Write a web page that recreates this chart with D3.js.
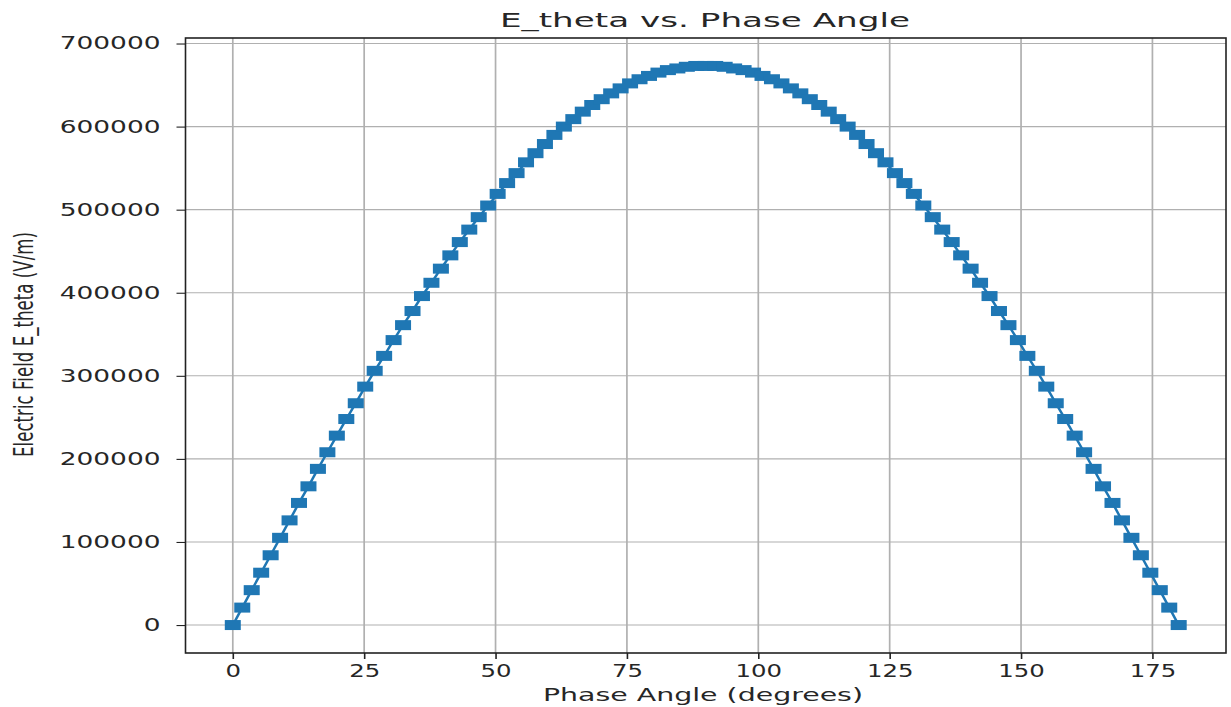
<!DOCTYPE html>
<html lang="en">
<head>
    <meta charset="UTF-8">
    <title>E_theta vs. Phase Angle</title>
    <script src="https://cdn.jsdelivr.net/npm/d3@7"></script>
    <style>
      body { margin: 0; background: #fff; }
      text { font-family: "DejaVu Sans", sans-serif; fill: #262626; }
    </style>
</head>
<body>
<div id="chart"></div>
<script>
  // phase angle samples (degrees)
  const angles = [0, 1.8, 3.6, 5.4, 7.2, 9, 10.8, 12.6, 14.4, 16.2, 18, 19.8, 21.6, 23.4, 25.2, 27, 28.8, 30.6, 32.4, 34.2,
    36, 37.8, 39.6, 41.4, 43.2, 45, 46.8, 48.6, 50.4, 52.2, 54, 55.8, 57.6, 59.4, 61.2, 63, 64.8, 66.6, 68.4, 70.2,
    72, 73.8, 75.6, 77.4, 79.2, 81, 82.8, 84.6, 86.4, 88.2, 90, 91.8, 93.6, 95.4, 97.2, 99, 100.8, 102.6, 104.4, 106.2,
    108, 109.8, 111.6, 113.4, 115.2, 117, 118.8, 120.6, 122.4, 124.2, 126, 127.8, 129.6, 131.4, 133.2, 135, 136.8, 138.6,
    140.4, 142.2, 144, 145.8, 147.6, 149.4, 151.2, 153, 154.8, 156.6, 158.4, 160.2, 162, 163.8, 165.6, 167.4, 169.2,
    171, 172.8, 174.6, 176.4, 178.2, 180];

  // E_theta values (V/m)
  const eTheta = [0, 21000, 42000, 63000, 84000, 105000, 126000, 147000, 167000, 188000, 208000, 228000, 248000, 267000,
    287000, 306000, 324000, 343000, 361000, 378000, 396000, 412000, 429000, 445000, 461000, 476000, 491000, 505000,
    519000, 532000, 544000, 557000, 568000, 579000, 590000, 600000, 609000, 618000, 626000, 633000, 640000, 646000,
    652000, 657000, 661000, 665000, 668000, 670000, 672000, 673000, 673000,
    673000, 672000, 670000, 668000, 665000, 661000, 657000, 652000, 646000, 640000, 633000, 626000, 618000, 609000,
    600000, 590000, 579000, 568000, 557000, 544000, 532000, 519000, 505000, 491000, 476000, 461000, 445000, 429000,
    412000, 396000, 378000, 361000, 343000, 324000, 306000, 287000, 267000, 248000, 228000, 208000, 188000, 167000,
    147000, 126000, 105000, 84000, 63000, 42000, 21000, 0];

  const xTicks = [0, 25, 50, 75, 100, 125, 150, 175];
  const yTicks = [0, 100000, 200000, 300000, 400000, 500000, 600000, 700000];

  const width = 1231, height = 707;
  const plotLeft = 185.5, plotRight = 1226, plotTop = 38, plotBottom = 653;

  const x = d3.scaleLinear().domain([-9, 189]).range([plotLeft, plotRight]);
  const y = d3.scaleLinear().domain([-33650, 706650]).range([plotBottom, plotTop]);

  const svg = d3.select("#chart").append("svg")
      .attr("width", width)
      .attr("height", height);

  // grid
  svg.append("g").selectAll("line")
    .data(xTicks)
    .join("line")
      .attr("x1", d => x(d)).attr("x2", d => x(d))
      .attr("y1", plotTop).attr("y2", plotBottom)
      .attr("stroke", "#b0b0b0")
      .attr("stroke-width", 1.7);

  svg.append("g").selectAll("line")
    .data(yTicks)
    .join("line")
      .attr("x1", plotLeft).attr("x2", plotRight)
      .attr("y1", d => y(d)).attr("y2", d => y(d))
      .attr("stroke", "#b0b0b0")
      .attr("stroke-width", 1.1);

  // axes
  const xAxis = svg.append("g")
      .attr("transform", `translate(0,${plotBottom})`)
      .call(d3.axisBottom(x).tickValues(xTicks).tickSize(6).tickPadding(6).tickFormat(d3.format("d")));
  xAxis.select(".domain").remove();
  xAxis.selectAll("line").attr("stroke", "#222").attr("stroke-width", 1.6);
  xAxis.selectAll("text")
      .attr("font-size", 17)
      .attr("fill", "#262626")
      .attr("textLength", function () { return this.textContent.length * 15.5; })
      .attr("lengthAdjust", "spacingAndGlyphs");

  const yAxis = svg.append("g")
      .attr("transform", `translate(${plotLeft},0)`)
      .call(d3.axisLeft(y).tickValues(yTicks).tickSize(9).tickPadding(16).tickFormat(d3.format("d")));
  yAxis.select(".domain").remove();
  yAxis.selectAll("line").attr("stroke", "#222").attr("stroke-width", 1.1);
  yAxis.selectAll("text")
      .attr("font-size", 17)
      .attr("fill", "#262626")
      .attr("textLength", function () { return this.textContent.length * 16.8; })
      .attr("lengthAdjust", "spacingAndGlyphs");

  // series
  const line = d3.line()
      .x((d, i) => x(angles[i]))
      .y(d => y(d));

  svg.append("path")
      .datum(eTheta)
      .attr("fill", "none")
      .attr("stroke", "#1f77b4")
      .attr("stroke-width", 2.5)
      .attr("d", line);

  svg.append("g").selectAll("rect")
    .data(eTheta)
    .join("rect")
      .attr("x", (d, i) => x(angles[i]) - 8)
      .attr("y", d => y(d) - 5)
      .attr("width", 16)
      .attr("height", 10)
      .attr("fill", "#1f77b4");

  // frame
  svg.append("rect")
      .attr("x", plotLeft).attr("y", plotTop)
      .attr("width", plotRight - plotLeft).attr("height", plotBottom - plotTop)
      .attr("fill", "none")
      .attr("stroke", "#222")
      .attr("stroke-width", 1.6);

  // labels
  svg.append("text")
      .attr("x", 705).attr("y", 27)
      .attr("text-anchor", "middle")
      .attr("font-size", 20)
      .attr("textLength", 410)
      .attr("lengthAdjust", "spacingAndGlyphs")
      .text("E_theta vs. Phase Angle");

  svg.append("text")
      .attr("x", 703).attr("y", 701)
      .attr("text-anchor", "middle")
      .attr("font-size", 18)
      .attr("textLength", 320)
      .attr("lengthAdjust", "spacingAndGlyphs")
      .text("Phase Angle (degrees)");

  svg.append("text")
      .attr("transform", "translate(33,344.5) rotate(-90) scale(1,1.45)")
      .attr("text-anchor", "middle")
      .attr("font-size", 18)
      .attr("textLength", 225)
      .attr("lengthAdjust", "spacingAndGlyphs")
      .text("Electric Field E_theta (V/m)");
</script>
</body>
</html>
